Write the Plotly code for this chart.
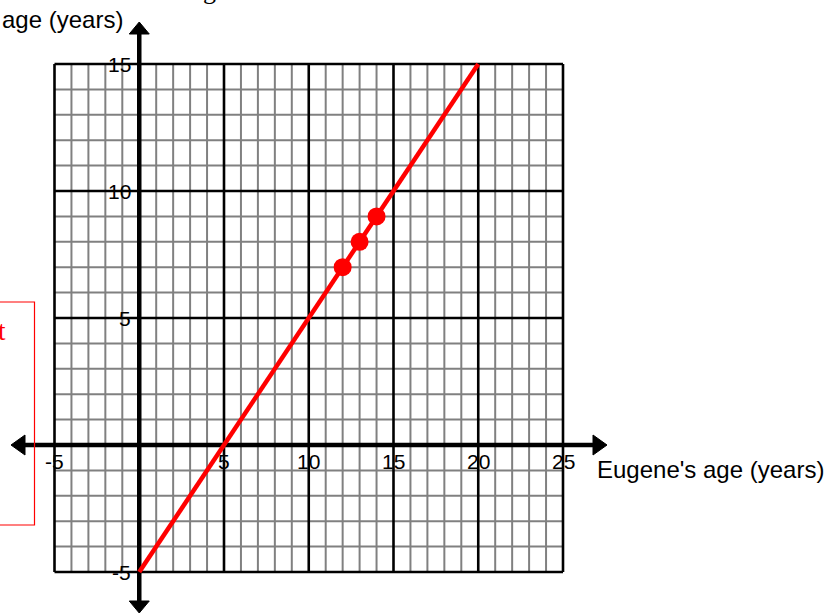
import plotly.graph_objects as go

# Grid extent and tick labels
x_min, x_max = -5, 25
y_min, y_max = -5, 15
x_tick_values = [-5, 5, 10, 15, 20, 25]
x_tick_labels = ["-5", "5", "10", "15", "20", "25"]
y_tick_values = [15, 10, 5, -5]
y_tick_labels = ["15", "10", "5", "-5"]

# Relationship line and marked points
line_x = [0, 20]
line_y = [-5, 15]
point_x = [12, 13, 14]
point_y = [7, 8, 9]

W, H = 832, 614
# pixel placement of the grid
PX_LEFT, PX_PER_X = 54.5, 16.95
PY_ZERO, PX_PER_Y = 445.0, 25.4


def px_x(px):
    return x_min + (px - PX_LEFT) / PX_PER_X


def py_y(py):
    return (PY_ZERO - py) / PX_PER_Y


shapes = []


def seg(x0, y0, x1, y1, color, width):
    shapes.append(dict(type="line", xref="x", yref="y", x0=x0, y0=y0, x1=x1, y1=y1,
                       line=dict(color=color, width=width), layer="below"))


# minor grid
for v in range(x_min, x_max + 1):
    if v % 5:
        seg(v, y_min, v, y_max, "#808080", 2)
for v in range(y_min, y_max + 1):
    if v % 5:
        seg(x_min, v, x_max, v, "#808080", 2)
# major grid
for v in range(x_min, x_max + 1, 5):
    if v != 0:
        seg(v, y_min, v, y_max, "black", 2.6)
for v in range(y_min, y_max + 1, 5):
    if v != 0:
        seg(x_min, v, x_max, v, "black", 2.6)

# axes with arrowheads
ax_left, ax_right = px_x(25), px_x(594)
ay_top, ay_bottom = py_y(34), py_y(601)
seg(ax_left, 0, ax_right, 0, "black", 4.5)
seg(0, ay_bottom, 0, ay_top, "black", 4.5)

hw = 10  # arrowhead half width in px
def tri(pts):
    d = "M " + " L ".join(f"{x},{y}" for x, y in pts) + " Z"
    shapes.append(dict(type="path", xref="x", yref="y", path=d,
                       fillcolor="black", line=dict(color="black", width=1), layer="below"))

tri([(px_x(11), 0), (px_x(25), py_y(PY_ZERO - hw)), (px_x(25), py_y(PY_ZERO + hw))])
tri([(px_x(607), 0), (px_x(593), py_y(PY_ZERO - hw)), (px_x(593), py_y(PY_ZERO + hw))])
x0px = PX_LEFT + 5 * PX_PER_X
tri([(0, py_y(22)), (px_x(x0px - hw), py_y(34)), (px_x(x0px + hw), py_y(34))])
tri([(0, py_y(613)), (px_x(x0px - hw), py_y(601)), (px_x(x0px + hw), py_y(601))])

# partially visible text box on the left
shapes.append(dict(type="rect", xref="x", yref="y", x0=px_x(-5), x1=px_x(34.5),
                   y0=py_y(525), y1=py_y(302), line=dict(color="red", width=1.2),
                   fillcolor="rgba(0,0,0,0)", layer="below"))

fig = go.Figure()
fig.add_trace(go.Scatter(x=line_x, y=line_y, mode="lines",
                         line=dict(color="#ff0000", width=4.5), hoverinfo="skip"))
fig.add_trace(go.Scatter(x=point_x, y=point_y, mode="markers",
                         marker=dict(color="#ff0000", size=18, line=dict(width=0)),
                         hoverinfo="skip"))

sans = "Liberation Sans, Arial, sans-serif"
serif = "Liberation Serif, Times New Roman, serif"
annotations = []
for v, t in zip(x_tick_values, x_tick_labels):
    annotations.append(dict(x=v, y=py_y(461), xref="x", yref="y", text=t, showarrow=False,
                            xanchor="center", yanchor="middle",
                            font=dict(family=sans, size=21, color="black")))
for v, t in zip(y_tick_values, y_tick_labels):
    annotations.append(dict(x=px_x(133), y=v, xref="x", yref="y", text=t, showarrow=False,
                            xanchor="right", yanchor="middle",
                            font=dict(family=sans, size=21, color="black")))

annotations.append(dict(x=px_x(595), y=py_y(469), xref="x", yref="y",
                        text="Eugene's age (years)", showarrow=False,
                        xanchor="left", yanchor="middle",
                        font=dict(family=sans, size=24, color="black")))
annotations.append(dict(x=px_x(0), y=py_y(19), xref="x", yref="y",
                        text="age (years)", showarrow=False,
                        xanchor="left", yanchor="middle",
                        font=dict(family=sans, size=24, color="black")))
annotations.append(dict(x=px_x(8), y=py_y(331), xref="x", yref="y",
                        text="t", showarrow=False, xanchor="right", yanchor="middle",
                        font=dict(family=serif, size=27, color="red")))
# heading above the chart, only its lowest stroke falls inside the page
annotations.append(dict(x=px_x(209), y=py_y(1), xref="x", yref="y", yshift=11,
                        text="g", showarrow=False, xanchor="center", yanchor="middle",
                        font=dict(family=serif, size=26, color="black")))

fig.update_layout(
    width=W, height=H,
    margin=dict(l=0, r=0, t=0, b=0),
    paper_bgcolor="white", plot_bgcolor="white",
    showlegend=False,
    xaxis=dict(range=[px_x(0), px_x(W)], visible=False, fixedrange=True),
    yaxis=dict(range=[py_y(H), py_y(0)], visible=False, fixedrange=True),
    shapes=shapes,
    annotations=annotations,
)

fig.write_html("out.html")
